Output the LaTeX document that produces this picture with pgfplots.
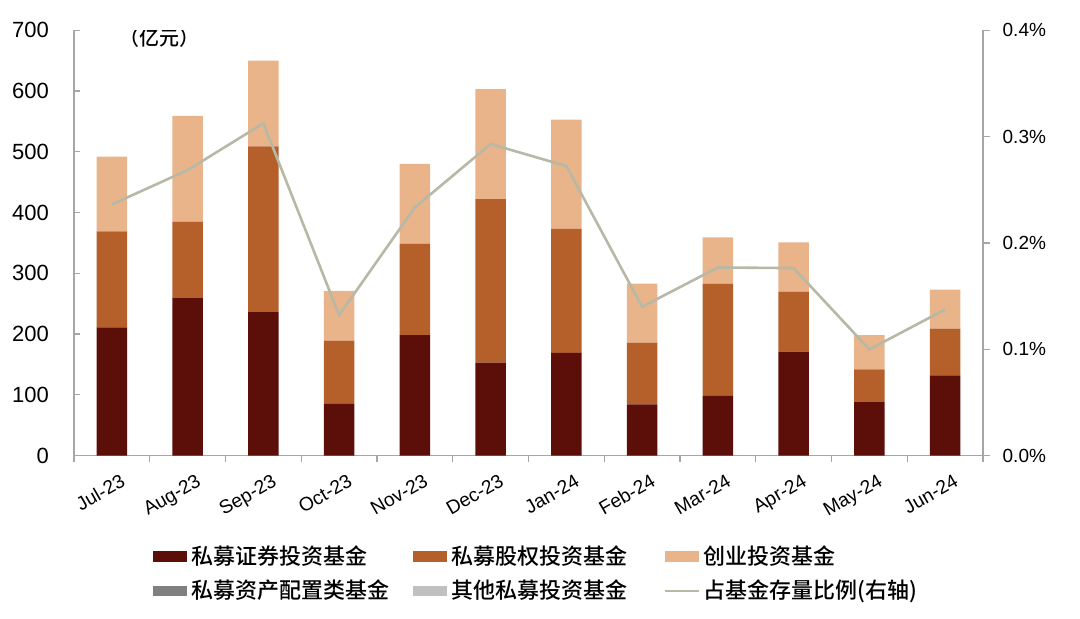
\documentclass[border=0pt]{standalone}
\usepackage{pgfplots}
\pgfplotsset{compat=1.18}
\usepackage{pgfplotstable}
\usepackage{fontspec}
\setmainfont{Liberation Sans}
\newfontfamily\cjk{Noto Sans CJK SC}[UprightFont=* Medium]
\definecolor{c1}{HTML}{5C0E09}
\definecolor{c2}{HTML}{B5602B}
\definecolor{c3}{HTML}{E9B48A}
\definecolor{c4}{HTML}{808080}
\definecolor{c5}{HTML}{C0C0C0}
\definecolor{cl}{HTML}{B8B8A6}
\definecolor{axc}{HTML}{A6A6A6}
\pgfplotstableread{
x a b c r
0 211 158 123 0.2362
1 259 126 174 0.2685
2 236 273 141 0.3125
3 85 104 82 0.1320
4 198 151 131 0.2334
5 153 269 181 0.2930
6 169 204 180 0.2723
7 84 102 97 0.1399
8 98 185 76 0.1769
9 171 99 81 0.1763
10 88 54 56 0.0998
11 132 77 64 0.1374
}\data
\begin{document}
\begin{tikzpicture}
\useasboundingbox (-37pt,-81.25pt) rectangle (503pt,227.75pt);
\pgfplotsset{
  barleg/.style={legend image code/.code={\fill[##1] (0pt,-2.7pt) rectangle (17pt,2.7pt);}},
  lineleg/.style={legend image code/.code={\draw[##1] (0pt,0pt) -- (17pt,0pt);}},
}
\begin{axis}[
  scale only axis, width=454.5pt, height=212.6pt,
  xmin=-0.5, xmax=11.5, ymin=0, ymax=700,
  ytick={0,100,200,300,400,500,600,700},
  axis x line*=bottom, axis y line*=left,
  axis line style={axc, line width=0.6pt},
  xtick={0,...,11},
  xticklabels={Jul-23,Aug-23,Sep-23,Oct-23,Nov-23,Dec-23,Jan-24,Feb-24,Mar-24,Apr-24,May-24,Jun-24},
  major x tick style={draw=none},
  minor xtick={-0.5,0.5,...,11.5},
  minor tick length=3pt, major tick length=3pt,
  ytick align=inside, xtick align=outside,
  every tick/.style={axc, line width=0.6pt},
  x tick label style={rotate=30, anchor=north east, font=\fontsize{9.6}{11}\selectfont, inner sep=1pt, yshift=-5.75pt, xshift=1.5pt},
  y tick label style={font=\fontsize{11}{13}\selectfont, xshift=-9pt},
  /pgf/number format/assume math mode=true,
  ybar stacked, bar width=15.2pt,
  legend columns=3,
  legend style={at={(0.0869,-0.201)}, anchor=north west, draw=none, fill=none, inner sep=0pt,
    font=\cjk\fontsize{11}{13}\selectfont,
    nodes={inner xsep=2pt, inner ysep=2pt},
    /tikz/column 2/.style={column sep=10pt},
    /tikz/column 4/.style={column sep=16pt},
    row sep=2.5pt},
  legend cell align=left,
]
\addplot[fill=c1, draw=none, barleg] table[x=x,y=a]{\data};
\addlegendentry{私募证券投资基金}
\addplot[fill=c2, draw=none, barleg] table[x=x,y=b]{\data};
\addlegendentry{私募股权投资基金}
\addplot[fill=c3, draw=none, barleg] table[x=x,y=c]{\data};
\addlegendentry{创业投资基金}
\addlegendimage{fill=c4, draw=none, barleg}
\addlegendentry{私募资产配置类基金}
\addlegendimage{fill=c5, draw=none, barleg}
\addlegendentry{其他私募投资基金}
\addlegendimage{cl, line width=1.3pt, lineleg}
\addlegendentry{占基金存量比例(右轴)}
\node[font=\cjk\fontsize{10}{12}\selectfont] at (rel axis cs:0.0946,0.981) {（亿元）};
\end{axis}
\begin{axis}[
  scale only axis, width=454.5pt, height=212.6pt,
  xmin=-0.5, xmax=11.5, ymin=0, ymax=0.4,
  axis y line*=right, axis x line=none,
  axis line style={axc, line width=0.6pt},
  tick align=outside, major tick length=3.3pt,
  every tick/.style={axc, line width=0.6pt},
  ytick={0,0.1,0.2,0.3,0.4},
  yticklabel={\pgfmathprintnumber[fixed,fixed zerofill,precision=1]{\tick}\%},
  /pgf/number format/assume math mode=true,
  y tick label style={font=\fontsize{9.5}{11}\selectfont, xshift=3pt},
]
\addplot[cl, line width=1.3pt] table[x=x,y=r]{\data};
\end{axis}
\end{tikzpicture}
\end{document}
